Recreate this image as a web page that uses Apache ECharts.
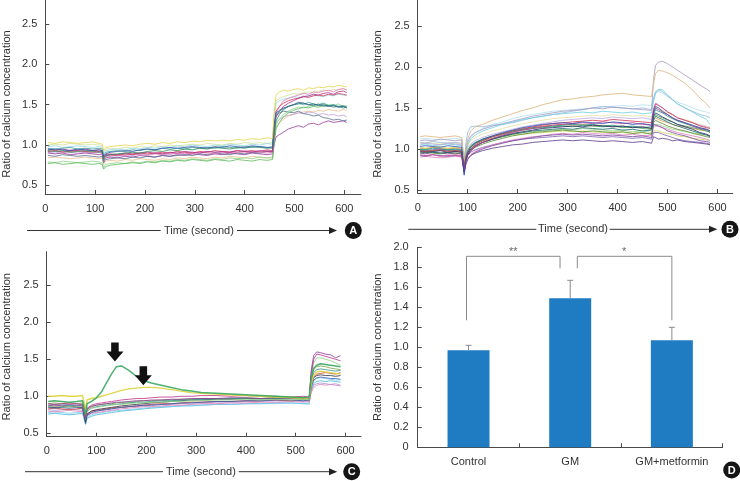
<!DOCTYPE html>
<html><head><meta charset="utf-8">
<script src="https://cdn.jsdelivr.net/npm/echarts@6/dist/echarts.min.js"></script>
<style>html,body{margin:0;padding:0;background:#fff}#c{width:740px;height:481px}</style>
</head><body><div id="c"></div><script>
// ---------------- Panel A data ----------------
const timesA = [5,20,35,50,65,80,95,108,114,117,
  121,130,145,160,175,190,205,220,235,250,
  265,280,295,310,325,340,355,370,385,400,
  415,430,445,456,459,463,470,478,488,498,
  508,518,528,538,548,558,568,578,588,598,
  605];
const a01 = [1.03,1.02,1.04,1.03,1.02,1.03,1.04,1.02,1.01,0.93,
  0.97,0.98,0.99,1.00,0.99,1.01,1.02,1.01,1.03,1.02,
  1.04,1.03,1.05,1.04,1.06,1.05,1.06,1.05,1.07,1.06,
  1.08,1.07,1.09,1.08,1.40,1.62,1.66,1.68,1.67,1.69,
  1.70,1.68,1.71,1.70,1.72,1.71,1.73,1.72,1.74,1.73,
  1.72];
const a02 = [1.00,1.01,1.00,1.02,1.01,1.00,1.01,1.00,0.99,0.92,
  0.95,0.96,0.95,0.97,0.96,0.98,0.97,0.99,0.98,1.00,
  0.99,1.00,1.01,1.00,1.02,1.01,1.00,1.02,1.01,1.03,
  1.02,1.03,1.02,1.03,1.30,1.55,1.58,1.60,1.62,1.64,
  1.63,1.65,1.66,1.65,1.67,1.68,1.67,1.69,1.68,1.70,
  1.69];
const a03 = [0.95,0.94,0.95,0.93,0.94,0.95,0.93,0.94,0.93,0.85,
  0.88,0.89,0.88,0.90,0.89,0.90,0.91,0.90,0.89,0.91,
  0.90,0.92,0.91,0.90,0.92,0.91,0.92,0.91,0.93,0.92,
  0.91,0.93,0.92,0.92,1.10,1.35,1.42,1.48,1.52,1.55,
  1.58,1.60,1.61,1.63,1.62,1.64,1.65,1.63,1.66,1.67,
  1.65];
const a04 = [0.92,0.93,0.92,0.94,0.93,0.92,0.93,0.92,0.91,0.84,
  0.87,0.86,0.88,0.87,0.89,0.88,0.87,0.89,0.88,0.90,
  0.89,0.90,0.89,0.91,0.90,0.89,0.91,0.90,0.91,0.90,
  0.92,0.91,0.90,0.91,1.15,1.40,1.48,1.55,1.58,1.60,
  1.62,1.64,1.63,1.66,1.65,1.67,1.68,1.66,1.69,1.70,
  1.68];
const a05 = [0.93,0.92,0.93,0.91,0.92,0.93,0.92,0.91,0.92,0.82,
  0.86,0.88,0.89,0.90,0.91,0.90,0.92,0.93,0.92,0.94,
  0.93,0.95,0.94,0.96,0.95,0.97,0.96,0.95,0.97,0.96,
  0.98,0.97,0.96,0.97,1.15,1.30,1.38,1.44,1.48,1.50,
  1.51,1.52,1.50,1.49,1.51,1.48,1.49,1.47,1.48,1.46,
  1.47];
const a06 = [0.96,0.95,0.96,0.97,0.95,0.96,0.95,0.96,0.95,0.87,
  0.91,0.92,0.93,0.92,0.94,0.93,0.95,0.94,0.96,0.95,
  0.96,0.95,0.97,0.96,0.97,0.96,0.98,0.97,0.96,0.98,
  0.97,0.98,0.97,0.98,1.20,1.38,1.42,1.45,1.48,1.50,
  1.52,1.50,1.53,1.51,1.50,1.52,1.49,1.50,1.48,1.49,
  1.47];
const a07 = [0.94,0.95,0.94,0.93,0.95,0.94,0.93,0.94,0.93,0.86,
  0.89,0.91,0.92,0.93,0.92,0.94,0.95,0.94,0.96,0.97,
  0.96,0.97,0.98,0.97,0.96,0.98,0.97,0.99,0.98,0.97,
  0.99,0.98,0.97,0.96,1.25,1.40,1.43,1.46,1.48,1.50,
  1.53,1.52,1.50,1.51,1.49,1.50,1.48,1.49,1.47,1.48,
  1.46];
const a08 = [0.87,0.86,0.88,0.87,0.86,0.87,0.86,0.85,0.86,0.78,
  0.82,0.83,0.84,0.83,0.85,0.84,0.86,0.85,0.87,0.86,
  0.87,0.88,0.87,0.89,0.88,0.90,0.89,0.88,0.90,0.89,
  0.91,0.90,0.92,0.91,1.20,1.36,1.40,1.42,1.41,1.40,
  1.42,1.39,1.38,1.36,1.37,1.34,1.33,1.31,1.32,1.30,
  1.31];
const a09 = [0.90,0.89,0.90,0.88,0.89,0.90,0.89,0.88,0.89,0.80,
  0.84,0.85,0.84,0.86,0.85,0.87,0.86,0.85,0.87,0.86,
  0.88,0.87,0.89,0.88,0.87,0.89,0.88,0.90,0.89,0.88,
  0.90,0.89,0.88,0.89,1.00,1.10,1.13,1.16,1.20,1.22,
  1.24,1.22,1.26,1.27,1.25,1.28,1.30,1.28,1.29,1.30,
  1.28];
const a10 = [0.79,0.78,0.80,0.79,0.78,0.79,0.80,0.79,0.78,0.72,
  0.76,0.77,0.78,0.77,0.79,0.78,0.80,0.79,0.81,0.80,
  0.82,0.81,0.83,0.82,0.81,0.83,0.82,0.84,0.83,0.84,
  0.83,0.85,0.84,0.84,1.05,1.25,1.32,1.38,1.42,1.45,
  1.47,1.46,1.48,1.50,1.49,1.51,1.50,1.49,1.51,1.48,
  1.49];
const a11 = [0.77,0.78,0.76,0.77,0.78,0.77,0.76,0.77,0.76,0.70,
  0.73,0.75,0.76,0.77,0.78,0.77,0.79,0.78,0.80,0.79,
  0.81,0.80,0.82,0.81,0.80,0.82,0.81,0.80,0.82,0.81,
  0.80,0.82,0.81,0.82,1.00,1.20,1.28,1.35,1.40,1.43,
  1.45,1.47,1.46,1.48,1.47,1.49,1.48,1.50,1.47,1.48,
  1.46];
const a12 = [0.98,0.99,0.97,0.98,0.99,0.98,0.97,0.98,0.97,0.90,
  0.93,0.94,0.95,0.94,0.96,0.95,0.97,0.96,0.98,0.97,
  0.99,0.98,1.00,0.99,0.98,1.00,0.99,1.01,1.00,0.99,
  1.01,1.00,1.02,1.01,1.35,1.52,1.55,1.57,1.58,1.60,
  1.59,1.61,1.60,1.62,1.61,1.60,1.62,1.61,1.63,1.62,
  1.61];
const a13 = [0.91,0.90,0.92,0.91,0.90,0.91,0.90,0.91,0.90,0.83,
  0.86,0.87,0.86,0.88,0.87,0.89,0.88,0.90,0.89,0.88,
  0.90,0.89,0.91,0.90,0.92,0.91,0.90,0.92,0.91,0.93,
  0.92,0.91,0.93,0.92,1.10,1.28,1.32,1.35,1.37,1.38,
  1.40,1.39,1.41,1.40,1.38,1.39,1.37,1.38,1.36,1.37,
  1.35];
const a14 = [0.84,0.85,0.84,0.83,0.84,0.85,0.84,0.83,0.84,0.76,
  0.80,0.81,0.80,0.82,0.81,0.83,0.82,0.81,0.83,0.82,
  0.84,0.83,0.85,0.84,0.83,0.85,0.84,0.86,0.85,0.84,
  0.86,0.85,0.84,0.85,1.05,1.22,1.28,1.32,1.36,1.38,
  1.40,1.41,1.42,1.41,1.43,1.42,1.44,1.43,1.42,1.44,
  1.43];
const a15 = [0.92,0.93,0.91,0.92,0.93,0.92,0.91,0.92,0.91,0.84,
  0.87,0.88,0.87,0.89,0.88,0.90,0.89,0.90,0.91,0.90,
  0.92,0.91,0.90,0.92,0.91,0.93,0.92,0.91,0.93,0.92,
  0.93,0.92,0.94,0.93,1.20,1.42,1.48,1.52,1.55,1.57,
  1.58,1.60,1.59,1.61,1.62,1.61,1.63,1.62,1.64,1.63,
  1.62];
const tracesA = [a14,a13,a02,a12,a09,a08,a10,a11,a04,a15,a03,a06,a05,a07,a01];
const colorsA = ['#e8c090','#c0a0d8','#cfe39a','#9ad8e8','#9a3aa0','#56708f','#8fd08a','#5cb85c','#e47ab8','#d03a5a','#b0308a','#3a9e9a','#2e8b57','#3558a8','#e6d44a'];

// ---------------- Panel B data ----------------
const timesB = [5,15,30,45,60,75,88,93,96,100,
  106,115,130,150,170,190,210,230,250,270,
  290,310,330,350,370,390,410,430,450,468,
  472,476,482,490,500,510,520,535,550,565,
  578,585];
const b01 = [1.15,1.16,1.15,1.14,1.15,1.16,1.14,0.85,1.00,1.12,
  1.22,1.27,1.30,1.35,1.39,1.43,1.47,1.50,1.54,1.57,
  1.60,1.61,1.63,1.64,1.66,1.67,1.68,1.66,1.65,1.64,
  1.80,1.92,1.96,1.95,1.93,1.90,1.86,1.80,1.72,1.62,
  1.55,1.50];
const b02 = [1.10,1.11,1.10,1.12,1.11,1.10,1.11,0.82,0.98,1.08,
  1.15,1.20,1.24,1.28,1.31,1.34,1.37,1.40,1.42,1.44,
  1.46,1.47,1.48,1.50,1.49,1.51,1.50,1.49,1.48,1.47,
  1.85,2.02,2.06,2.07,2.04,2.00,1.96,1.90,1.84,1.78,
  1.73,1.70];
const b03 = [1.08,1.07,1.09,1.08,1.07,1.08,1.07,0.80,1.05,1.20,
  1.27,1.28,1.27,1.29,1.30,1.32,1.35,1.38,1.40,1.42,
  1.44,1.46,1.48,1.50,1.52,1.51,1.50,1.49,1.50,1.48,
  1.62,1.70,1.72,1.70,1.65,1.60,1.55,1.50,1.46,1.42,
  1.40,1.38];
const b04 = [1.05,1.06,1.04,1.05,1.06,1.05,1.04,0.78,0.95,1.05,
  1.12,1.17,1.22,1.26,1.30,1.33,1.36,1.38,1.40,1.42,
  1.43,1.44,1.45,1.44,1.46,1.45,1.44,1.45,1.43,1.44,
  1.58,1.68,1.73,1.72,1.66,1.60,1.55,1.50,1.45,1.40,
  1.36,1.30];
const b05 = [1.12,1.13,1.12,1.11,1.12,1.13,1.12,0.86,1.00,1.10,
  1.16,1.20,1.25,1.30,1.33,1.37,1.40,1.42,1.44,1.46,
  1.47,1.48,1.49,1.50,1.51,1.52,1.53,1.52,1.54,1.53,
  1.62,1.68,1.70,1.68,1.64,1.60,1.57,1.54,1.50,1.47,
  1.45,1.43];
const b06 = [0.95,0.94,0.96,0.95,0.94,0.95,0.94,0.72,0.82,0.88,
  0.92,0.95,0.98,1.01,1.03,1.05,1.06,1.08,1.09,1.10,
  1.11,1.10,1.11,1.10,1.09,1.10,1.09,1.08,1.09,1.07,
  1.15,1.14,1.12,1.13,1.12,1.10,1.11,1.09,1.08,1.07,
  1.06,1.05];
const b07 = [0.92,0.91,0.93,0.92,0.91,0.92,0.91,0.70,0.80,0.87,
  0.92,0.96,1.00,1.04,1.07,1.10,1.12,1.14,1.16,1.17,
  1.18,1.17,1.18,1.17,1.16,1.17,1.16,1.15,1.16,1.14,
  1.30,1.32,1.28,1.26,1.22,1.20,1.18,1.16,1.13,1.10,
  1.09,1.08];
const b08 = [0.93,0.92,0.93,0.91,0.92,0.93,0.92,0.74,0.85,0.92,
  0.98,1.03,1.08,1.13,1.17,1.20,1.23,1.25,1.27,1.29,
  1.30,1.31,1.32,1.31,1.33,1.32,1.31,1.32,1.30,1.29,
  1.45,1.50,1.48,1.45,1.42,1.38,1.35,1.32,1.28,1.25,
  1.24,1.22];
const b09 = [0.98,0.97,0.98,0.99,0.97,0.98,0.97,0.76,0.88,0.95,
  1.00,1.05,1.10,1.15,1.19,1.22,1.25,1.27,1.29,1.31,
  1.32,1.33,1.34,1.35,1.34,1.36,1.35,1.34,1.33,1.32,
  1.48,1.55,1.53,1.50,1.45,1.42,1.38,1.35,1.32,1.28,
  1.26,1.25];
const b10 = [0.98,0.99,0.97,0.98,0.99,0.98,0.97,0.75,0.88,0.96,
  1.02,1.07,1.11,1.15,1.18,1.21,1.23,1.25,1.26,1.27,
  1.28,1.27,1.29,1.28,1.27,1.28,1.26,1.27,1.25,1.24,
  1.38,1.42,1.40,1.38,1.35,1.33,1.30,1.28,1.26,1.24,
  1.22,1.21];
const b11 = [1.00,0.99,1.01,1.00,0.99,1.00,0.99,0.77,0.90,0.98,
  1.04,1.08,1.12,1.16,1.19,1.22,1.24,1.26,1.27,1.28,
  1.29,1.30,1.29,1.30,1.28,1.29,1.27,1.28,1.26,1.27,
  1.42,1.48,1.46,1.44,1.40,1.37,1.34,1.31,1.28,1.25,
  1.23,1.20];
const b12 = [0.96,0.97,0.96,0.95,0.96,0.97,0.96,0.73,0.86,0.94,
  1.00,1.04,1.08,1.12,1.15,1.18,1.20,1.22,1.23,1.24,
  1.25,1.24,1.26,1.25,1.24,1.25,1.23,1.24,1.22,1.23,
  1.35,1.40,1.38,1.36,1.33,1.30,1.28,1.25,1.22,1.19,
  1.17,1.15];
const b13 = [1.03,1.04,1.03,1.02,1.04,1.03,1.02,0.68,0.84,0.95,
  1.02,1.07,1.12,1.16,1.20,1.23,1.26,1.28,1.30,1.31,
  1.32,1.31,1.33,1.32,1.31,1.33,1.32,1.30,1.31,1.29,
  1.45,1.52,1.50,1.46,1.42,1.38,1.35,1.32,1.29,1.26,
  1.24,1.22];
const b14 = [0.97,0.96,0.97,0.98,0.96,0.97,0.96,0.72,0.86,0.93,
  0.98,1.03,1.08,1.12,1.16,1.19,1.21,1.23,1.25,1.26,
  1.27,1.28,1.27,1.29,1.28,1.27,1.28,1.26,1.27,1.25,
  1.40,1.44,1.42,1.39,1.36,1.33,1.30,1.27,1.24,1.20,
  1.18,1.16];
const b15 = [0.99,1.00,0.99,0.98,1.00,0.99,0.98,0.78,0.90,0.97,
  1.02,1.06,1.10,1.13,1.16,1.18,1.20,1.21,1.22,1.23,
  1.24,1.23,1.25,1.24,1.23,1.22,1.23,1.21,1.22,1.20,
  1.30,1.32,1.30,1.28,1.26,1.24,1.23,1.21,1.20,1.18,
  1.17,1.16];
const b16 = [1.02,1.01,1.02,1.03,1.01,1.02,1.01,0.80,0.93,1.00,
  1.04,1.07,1.10,1.13,1.15,1.17,1.18,1.19,1.20,1.21,
  1.22,1.21,1.22,1.21,1.20,1.21,1.20,1.19,1.20,1.18,
  1.22,1.24,1.22,1.20,1.19,1.18,1.16,1.15,1.13,1.12,
  1.11,1.10];
const b17 = [0.90,0.91,0.90,0.89,0.90,0.91,0.90,0.72,0.82,0.88,
  0.93,0.97,1.01,1.05,1.08,1.11,1.13,1.15,1.16,1.18,
  1.19,1.18,1.20,1.19,1.18,1.19,1.17,1.18,1.16,1.17,
  1.28,1.30,1.28,1.26,1.24,1.22,1.20,1.18,1.16,1.14,
  1.12,1.10];
const b18 = [1.01,1.00,1.02,1.01,1.00,1.01,1.00,0.79,0.92,0.99,
  1.03,1.07,1.11,1.15,1.18,1.21,1.24,1.26,1.28,1.29,
  1.30,1.29,1.30,1.28,1.29,1.27,1.28,1.26,1.27,1.25,
  1.35,1.38,1.36,1.34,1.32,1.30,1.28,1.27,1.25,1.23,
  1.22,1.20];
const b19 = [0.95,0.96,0.95,0.94,0.96,0.95,0.94,0.74,0.86,0.93,
  0.98,1.02,1.06,1.10,1.13,1.16,1.18,1.20,1.21,1.22,
  1.23,1.22,1.21,1.22,1.21,1.20,1.21,1.19,1.20,1.18,
  1.32,1.35,1.33,1.31,1.28,1.26,1.24,1.22,1.19,1.17,
  1.15,1.14];
const b20 = [1.06,1.07,1.06,1.05,1.07,1.06,1.05,0.80,0.94,1.02,
  1.06,1.10,1.14,1.18,1.21,1.24,1.27,1.29,1.31,1.33,
  1.35,1.36,1.37,1.38,1.37,1.39,1.38,1.37,1.38,1.36,
  1.50,1.56,1.54,1.50,1.46,1.42,1.38,1.35,1.32,1.29,
  1.27,1.26];
const b21 = [0.99,0.98,0.99,1.00,0.98,0.99,0.98,0.75,0.86,0.92,
  0.96,0.99,1.02,1.05,1.08,1.10,1.12,1.13,1.14,1.15,
  1.16,1.15,1.16,1.15,1.14,1.15,1.14,1.13,1.14,1.12,
  1.20,1.22,1.20,1.18,1.16,1.14,1.12,1.10,1.09,1.08,
  1.07,1.06];
const b22 = [1.07,1.08,1.07,1.06,1.08,1.07,1.06,0.84,0.96,1.04,
  1.10,1.14,1.18,1.22,1.25,1.28,1.31,1.33,1.35,1.37,
  1.38,1.39,1.40,1.41,1.40,1.42,1.41,1.40,1.41,1.39,
  1.48,1.52,1.50,1.47,1.44,1.41,1.38,1.36,1.33,1.30,
  1.28,1.27];
const tracesB = [b05,b22,b03,b02,b01,b04,b20,b16,b15,b18,b21,b06,b17,b19,b07,b12,b10,b11,b14,b08,b09,b13];
const colorsB = ['#b0e0ee','#e8e0a0','#90b8e0','#a898c0','#dcb478','#6fcfe0','#b8a8e0','#c8d860','#a0d890','#e0a050','#8060b0','#5a3a8a','#e080c0','#5a8a30','#7a4aa0','#1a6a6a','#3aa050','#20908a','#2a2a6a','#c03a90','#d03050','#3050b0'];

// ---------------- Panel C data ----------------
const timesC = [3,15,30,45,60,72,76,78,81,90,
  100,110,120,130,140,150,165,180,195,210,
  230,250,270,290,310,340,370,400,430,460,
  490,515,527,531,536,542,550,560,570,580,
  590];
const c01 = [0.93,0.94,0.93,0.92,0.93,0.94,0.93,0.75,0.90,0.93,
  0.98,1.06,1.18,1.30,1.40,1.41,1.35,1.27,1.21,1.18,
  1.15,1.12,1.09,1.07,1.05,1.04,1.03,1.02,1.01,1.00,
  0.99,0.98,0.99,1.25,1.38,1.42,1.44,1.43,1.42,1.41,
  1.40];
const c02 = [1.00,1.00,1.01,1.00,1.00,1.01,1.00,0.82,0.95,0.97,
  0.98,1.00,1.02,1.04,1.06,1.08,1.10,1.11,1.12,1.12,
  1.11,1.09,1.07,1.05,1.04,1.03,1.02,1.01,1.00,0.99,
  0.98,0.97,0.98,1.15,1.28,1.33,1.34,1.33,1.32,1.31,
  1.30];
const c03 = [0.88,0.87,0.88,0.89,0.88,0.87,0.88,0.70,0.82,0.86,
  0.88,0.89,0.90,0.91,0.92,0.92,0.93,0.94,0.94,0.95,
  0.95,0.96,0.96,0.97,0.97,0.97,0.98,0.98,0.97,0.98,
  0.97,0.98,0.97,1.35,1.55,1.60,1.59,1.57,1.56,1.52,
  1.55];
const c04 = [0.90,0.89,0.90,0.91,0.90,0.89,0.90,0.72,0.84,0.88,
  0.90,0.91,0.92,0.93,0.94,0.95,0.96,0.97,0.97,0.98,
  0.99,0.99,1.00,1.00,1.01,1.01,1.00,1.01,1.00,1.00,
  0.99,1.00,0.99,1.30,1.50,1.57,1.56,1.54,1.52,1.50,
  1.48];
const c05 = [0.86,0.87,0.86,0.85,0.86,0.87,0.86,0.70,0.80,0.84,
  0.85,0.86,0.87,0.88,0.89,0.89,0.90,0.91,0.91,0.92,
  0.92,0.93,0.93,0.94,0.94,0.95,0.95,0.96,0.95,0.96,
  0.95,0.96,0.95,1.28,1.45,1.52,1.52,1.50,1.48,1.45,
  1.42];
const c06 = [0.86,0.85,0.86,0.87,0.86,0.85,0.86,0.66,0.76,0.80,
  0.82,0.83,0.84,0.85,0.86,0.87,0.88,0.89,0.90,0.91,
  0.92,0.93,0.94,0.95,0.95,0.96,0.96,0.97,0.97,0.97,
  0.98,0.97,0.98,1.15,1.25,1.28,1.29,1.28,1.28,1.27,
  1.28];
const c07 = [0.85,0.84,0.85,0.84,0.85,0.84,0.85,0.63,0.74,0.78,
  0.80,0.81,0.82,0.83,0.84,0.85,0.86,0.87,0.88,0.88,
  0.89,0.90,0.91,0.91,0.92,0.93,0.93,0.94,0.94,0.95,
  0.95,0.94,0.95,1.12,1.22,1.25,1.26,1.25,1.24,1.24,
  1.23];
const c08 = [0.83,0.84,0.83,0.82,0.83,0.84,0.83,0.67,0.76,0.80,
  0.81,0.82,0.83,0.84,0.85,0.85,0.86,0.87,0.88,0.89,
  0.90,0.90,0.91,0.92,0.92,0.93,0.93,0.94,0.94,0.95,
  0.94,0.95,0.94,1.15,1.26,1.30,1.31,1.32,1.31,1.30,
  1.32];
const c09 = [0.76,0.77,0.76,0.75,0.76,0.77,0.76,0.62,0.70,0.73,
  0.75,0.76,0.77,0.78,0.79,0.80,0.81,0.82,0.83,0.84,
  0.85,0.86,0.87,0.87,0.88,0.89,0.89,0.90,0.90,0.91,
  0.91,0.90,0.91,1.08,1.17,1.20,1.21,1.20,1.21,1.20,
  1.19];
const c10 = [0.80,0.79,0.80,0.81,0.80,0.79,0.80,0.65,0.74,0.77,
  0.78,0.79,0.80,0.81,0.82,0.83,0.84,0.85,0.86,0.86,
  0.87,0.88,0.88,0.89,0.90,0.90,0.91,0.91,0.92,0.92,
  0.93,0.92,0.93,1.05,1.12,1.15,1.16,1.15,1.16,1.15,
  1.14];
const c11 = [0.88,0.89,0.88,0.87,0.88,0.89,0.88,0.68,0.80,0.84,
  0.86,0.87,0.88,0.89,0.89,0.90,0.91,0.92,0.92,0.93,
  0.94,0.94,0.95,0.95,0.96,0.96,0.97,0.97,0.96,0.97,
  0.97,0.96,0.97,1.20,1.32,1.36,1.37,1.36,1.35,1.34,
  1.35];
const c12 = [0.78,0.79,0.78,0.77,0.78,0.79,0.78,0.64,0.72,0.75,
  0.77,0.78,0.79,0.80,0.81,0.81,0.82,0.83,0.84,0.85,
  0.86,0.86,0.87,0.88,0.88,0.89,0.89,0.90,0.90,0.90,
  0.91,0.90,0.89,1.10,1.20,1.24,1.25,1.24,1.23,1.22,
  1.22];
const c13 = [0.90,0.91,0.90,0.91,0.90,0.91,0.90,0.71,0.83,0.87,
  0.88,0.89,0.90,0.90,0.91,0.92,0.92,0.93,0.94,0.94,
  0.95,0.95,0.96,0.96,0.97,0.97,0.97,0.98,0.97,0.98,
  0.97,0.98,0.97,1.22,1.36,1.40,1.41,1.40,1.38,1.37,
  1.36];
const c14 = [0.82,0.81,0.82,0.83,0.82,0.81,0.82,0.66,0.75,0.78,
  0.80,0.81,0.82,0.83,0.84,0.85,0.86,0.86,0.87,0.88,
  0.89,0.89,0.90,0.91,0.91,0.92,0.92,0.93,0.93,0.94,
  0.94,0.93,0.94,1.08,1.15,1.17,1.18,1.17,1.16,1.17,
  1.15];
const tracesC = [c09,c12,c10,c14,c08,c07,c06,c13,c11,c05,c04,c03,c02,c01];
const colorsC = ['#40b8d8','#80c8f0','#e080b8','#b090d0','#d04030','#3060b0','#303040','#7aa040','#309890','#90d080','#c0308a','#8a3a9a','#dcd23c','#3aa860'];
const widthsC = [0.9,0.9,0.9,0.9,0.9,0.9,0.9,0.9,0.9,0.9,0.9,0.9,1.4,1.5];
// annotation arrows (panel C): time and ratio at arrow tips
const arrowTimes = [137, 194];
const arrowVals = [1.47, 1.15];

// ---------------- Panel D data ----------------
const groups = ['Control', 'GM', 'GM+metformin'];
const meanVals = [0.97, 1.49, 1.07];
const errTops = [1.02, 1.67, 1.20];
const bracket1X = [0.48, 0.48, 1.40, 1.40];
const bracket1Y = [1.27, 1.91, 1.91, 1.79];
const bracket2X = [1.57, 1.57, 2.50, 2.50];
const bracket2Y = [1.79, 1.91, 1.91, 1.27];
const starX = [0.94, 2.03];
const starY = [1.95, 1.95];
const starText = ['**', '*'];

const xTickVals = [0, 100, 200, 300, 400, 500, 600];
const yTickVals = [0.5, 1.0, 1.5, 2.0, 2.5];

// ---------------- chart ----------------
const FONT = '"Liberation Sans", Arial, Helvetica, sans-serif';
const AX = '#4a4a4a';
const TXT = '#333';

function timeX(grid, max) {
  return { type: 'value', gridIndex: grid, min: 0, max: max,
    axisLine: { show: true, onZero: false, lineStyle: { color: AX, width: 1 } },
    axisTick: { show: true, inside: true, length: 4, customValues: xTickVals, lineStyle: { color: AX } },
    axisLabel: { customValues: xTickVals, color: TXT, fontSize: 11, fontFamily: FONT, margin: 9 },
    splitLine: { show: false } };
}
function ratioY(grid, min, max, gap, pad) {
  return { type: 'value', gridIndex: grid, min: min, max: max,
    name: 'Ratio of calcium concentration', nameLocation: 'middle', nameGap: gap,
    nameTextStyle: { color: TXT, fontSize: 11, fontFamily: FONT, padding: pad },
    axisLine: { show: true, onZero: false, lineStyle: { color: AX, width: 1 } },
    axisTick: { show: true, inside: true, length: 4, customValues: yTickVals, lineStyle: { color: AX } },
    axisLabel: { customValues: yTickVals, formatter: v => v.toFixed(1), color: TXT, fontSize: 11, fontFamily: FONT, margin: 8 },
    splitLine: { show: false } };
}
function traces(times, list, colors, idx, widths) {
  return list.map((vals, k) => ({
    type: 'line', xAxisIndex: idx, yAxisIndex: idx, silent: true, animation: false,
    showSymbol: false, symbol: 'none',
    data: vals.map((v, i) => [times[i], v]),
    lineStyle: { color: colors[k], width: widths ? widths[k] : 0.9, opacity: 0.9 }
  }));
}
function timeArrow(y, x0, tl, tr, lineEnd, tip, bx, letter) {
  return [
    { type: 'line', shape: { x1: x0, y1: y, x2: tl - 2, y2: y }, style: { stroke: '#333', lineWidth: 1 } },
    { type: 'line', shape: { x1: tr + 2, y1: y, x2: lineEnd, y2: y }, style: { stroke: '#333', lineWidth: 1 } },
    { type: 'polygon', shape: { points: [[lineEnd - 1, y - 3.5], [tip, y], [lineEnd - 1, y + 3.5]] }, style: { fill: '#222' } },
    { type: 'text', x: (tl + tr) / 2, y: y, style: { text: 'Time (second)', fill: TXT, font: '11px ' + FONT, textAlign: 'center', textVerticalAlign: 'middle' } },
  ].concat(badge(bx, y, letter));
}
function badge(x, y, letter) {
  return [
    { type: 'circle', shape: { cx: x, cy: y, r: 8.5 }, style: { fill: '#151515' } },
    { type: 'text', x: x, y: y + 0.5, style: { text: letter, fill: '#fff', font: 'bold 11px ' + FONT, textAlign: 'center', textVerticalAlign: 'middle' } }
  ];
}

const chart = echarts.init(document.getElementById('c'), null, { renderer: 'canvas' });
const option = {
  animation: false,
  backgroundColor: '#fff',
  grid: [
    { left: 45.3, top: 0, width: 315.7, height: 194 },
    { left: 417.7, top: 0, width: 315, height: 193 },
    { left: 46.7, top: 251.7, width: 314.3, height: 185 },
    { left: 417.7, top: 247.3, width: 305, height: 200 }
  ],
  xAxis: [
    timeX(0, 633.5),
    timeX(1, 630.4),
    timeX(2, 631),
    { type: 'category', gridIndex: 3, data: groups,
      axisLine: { show: true, lineStyle: { color: AX, width: 1 } },
      axisTick: { show: true, inside: true, length: 4, lineStyle: { color: AX } },
      axisLabel: { color: TXT, fontSize: 11, fontFamily: FONT, margin: 9 } },
    { type: 'value', gridIndex: 3, min: 0, max: 3, show: false }
  ],
  yAxis: [
    ratioY(0, 0.392, 2.80, 33, [0, 14, 0, 0]),
    ratioY(1, 0.463, 2.817, 34, [0, 15, 0, 0]),
    ratioY(2, 0.454, 2.954, 34, [0, 5, 0, 0]),
    { type: 'value', gridIndex: 3, min: 0, max: 2, interval: 0.2,
      name: 'Ratio of calcium concentration', nameLocation: 'middle', nameGap: 34,
      nameTextStyle: { color: TXT, fontSize: 11, fontFamily: FONT },
      axisLine: { show: true, lineStyle: { color: AX, width: 1 } },
      axisTick: { show: true, inside: true, length: 4, lineStyle: { color: AX } },
      axisLabel: { formatter: v => (v === 0 ? '0' : v.toFixed(1)), color: TXT, fontSize: 11, fontFamily: FONT, margin: 9 },
      splitLine: { show: false } }
  ],
  series: [].concat(
    traces(timesA, tracesA, colorsA, 0),
    traces(timesB, tracesB, colorsB, 1),
    traces(timesC, tracesC, colorsC, 2, widthsC),
    [{ type: 'scatter', xAxisIndex: 2, yAxisIndex: 2, silent: true,
       data: arrowTimes.map((t, i) => [t, arrowVals[i]]),
       symbol: 'path://M5,0 L13,0 L13,9 L18,9 L9,19 L0,9 L5,9 Z',
       symbolSize: [17, 19], symbolOffset: [0, '-50%'],
       itemStyle: { color: '#111', opacity: 1 }, z: 5 },
     { type: 'bar', xAxisIndex: 3, yAxisIndex: 3, data: meanVals, barWidth: 42,
       itemStyle: { color: '#1f7cc2' }, silent: true },
     { type: 'custom', xAxisIndex: 3, yAxisIndex: 3, silent: true, z: 3,
       data: groups.map((g, i) => [i, meanVals[i], errTops[i]]),
       renderItem: (params, api) => {
         const b = api.coord([api.value(0), api.value(1)]);
         const t = api.coord([api.value(0), api.value(2)]);
         return { type: 'group', children: [
           { type: 'line', shape: { x1: b[0], y1: b[1], x2: t[0], y2: t[1] }, style: { stroke: '#8a8a8a', lineWidth: 1 } },
           { type: 'line', shape: { x1: t[0] - 3, y1: t[1], x2: t[0] + 3, y2: t[1] }, style: { stroke: '#8a8a8a', lineWidth: 1 } }
         ] };
       } },
     { type: 'line', xAxisIndex: 4, yAxisIndex: 3, silent: true, symbol: 'none',
       data: bracket1X.map((x, i) => [x, bracket1Y[i]]), lineStyle: { color: '#8a8a8a', width: 1 } },
     { type: 'line', xAxisIndex: 4, yAxisIndex: 3, silent: true, symbol: 'none',
       data: bracket2X.map((x, i) => [x, bracket2Y[i]]), lineStyle: { color: '#8a8a8a', width: 1 } },
     { type: 'scatter', xAxisIndex: 4, yAxisIndex: 3, silent: true, symbolSize: 0,
       data: starX.map((x, i) => ({ value: [x, starY[i]], label: { formatter: starText[i] } })),
       label: { show: true, position: 'inside', color: '#444', fontSize: 11, fontFamily: FONT } }
    ]
  ),
  graphic: [].concat(
    timeArrow(230.5, 27, 162.7, 235, 330, 337, 353.3, 'A'),
    timeArrow(229.3, 408.3, 538.3, 607.7, 710, 717.3, 730, 'B'),
    timeArrow(471.7, 25, 165, 236.7, 330, 337.3, 351.7, 'C'),
    badge(731.7, 470, 'D')
  )
};
chart.setOption(option);
</script></body></html>
